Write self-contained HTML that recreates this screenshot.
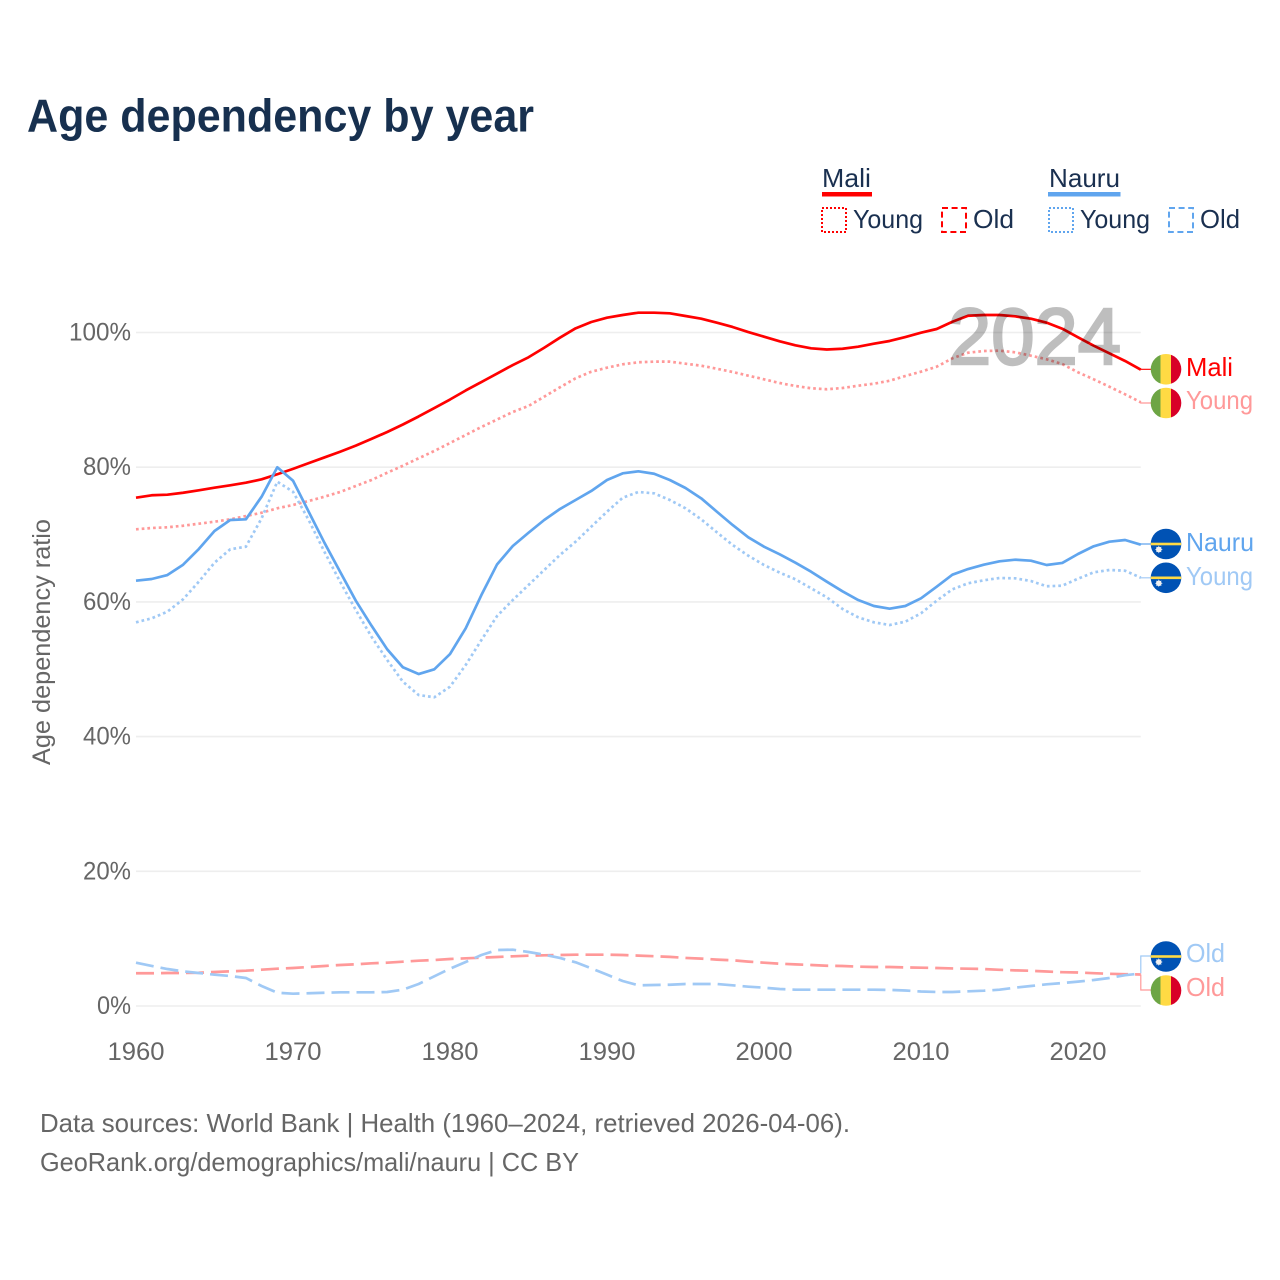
<!DOCTYPE html>
<html lang="en">
<head>
<meta charset="utf-8">
<title>Age dependency by year</title>
<style>
html,body{margin:0;padding:0;background:#fff;}
svg{display:block;font-family:"Liberation Sans",sans-serif;}
</style>
</head>
<body>
<svg id="chart" xmlns="http://www.w3.org/2000/svg" width="1280" height="1280" viewBox="0 0 1280 1280">
  <defs>
    <clipPath id="flag-clip"><circle cx="15.5" cy="15.5" r="15.3"></circle></clipPath>
    <g id="flag-mali" clip-path="url(#flag-clip)">
      <rect x="0" y="0" width="10" height="31" fill="#6da544"></rect>
      <rect x="10" y="0" width="10.5" height="31" fill="#ffda44"></rect>
      <rect x="20.5" y="0" width="10.5" height="31" fill="#d80027"></rect>
    </g>
    <g id="flag-nauru" clip-path="url(#flag-clip)">
      <rect x="0" y="0" width="31" height="31" fill="#0052b4"></rect>
      <rect x="0" y="14.2" width="31" height="2.6" fill="#ffda44"></rect>
      <circle cx="8.3" cy="21" r="2.8" fill="#f0f0f0"></circle>
      <path d="M8.3 17 L9 19 L11 18.3 L10.3 20.3 L12.3 21 L10.3 21.7 L11 23.7 L9 23 L8.3 25 L7.6 23 L5.6 23.7 L6.3 21.7 L4.3 21 L6.3 20.3 L5.6 18.3 L7.6 19 Z" fill="#f0f0f0"></path>
    </g>
  </defs>

  <text x="27" y="131.5" font-size="46" font-weight="700" fill="#17304f" textLength="507" lengthAdjust="spacingAndGlyphs">Age dependency by year</text>

  <g font-size="26" fill="#1a3050">
    <text x="822" y="187" textLength="49" lengthAdjust="spacingAndGlyphs">Mali</text>
    <rect x="822" y="192" width="50" height="4.5" fill="#ff0000"></rect>
    <rect x="822" y="208" width="24" height="24" fill="none" stroke="#ff0000" stroke-width="2" stroke-dasharray="2 2"></rect>
    <text x="853" y="228" textLength="70" lengthAdjust="spacingAndGlyphs">Young</text>
    <rect x="942" y="208" width="24" height="24" fill="none" stroke="#ff0000" stroke-width="2" stroke-dasharray="6 3.6"></rect>
    <text x="973" y="228" textLength="41" lengthAdjust="spacingAndGlyphs">Old</text>
    <text x="1049" y="187" textLength="71" lengthAdjust="spacingAndGlyphs">Nauru</text>
    <rect x="1048" y="192" width="72.5" height="4.5" fill="#60a5ee"></rect>
    <rect x="1049" y="208" width="24" height="24" fill="none" stroke="#60a5ee" stroke-width="2" stroke-dasharray="2 2"></rect>
    <text x="1080" y="228" textLength="70" lengthAdjust="spacingAndGlyphs">Young</text>
    <rect x="1169" y="208" width="24" height="24" fill="none" stroke="#60a5ee" stroke-width="2" stroke-dasharray="6 3.6"></rect>
    <text x="1200" y="228" textLength="40" lengthAdjust="spacingAndGlyphs">Old</text>
  </g>

  <g id="grid-layer"></g>
  <g id="tick-layer"></g>
  <text transform="translate(50,642) rotate(-90)" text-anchor="middle" font-size="25" fill="#666666" textLength="246" lengthAdjust="spacingAndGlyphs">Age dependency ratio</text>
  <g id="connector-layer"></g>
  <g id="line-layer"></g>

  <text x="948" y="364" font-size="80" fill="#000000" stroke="#000000" stroke-width="2.4" opacity="0.25" textLength="173" lengthAdjust="spacingAndGlyphs">2024</text>

  <g font-size="26">
    <use href="#flag-mali" x="1150.5" y="353.8"></use>
    <text x="1186" y="376" fill="#ff0000" textLength="47" lengthAdjust="spacingAndGlyphs">Mali</text>
    <use href="#flag-mali" x="1150.5" y="387.5"></use>
    <text x="1186" y="409" fill="#ff9999" textLength="67" lengthAdjust="spacingAndGlyphs">Young</text>
    <use href="#flag-nauru" x="1150.5" y="528.5"></use>
    <text x="1186" y="551" fill="#60a5ee" textLength="68" lengthAdjust="spacingAndGlyphs">Nauru</text>
    <use href="#flag-nauru" x="1150.5" y="562.3"></use>
    <text x="1186" y="585" fill="#a0c9f5" textLength="67" lengthAdjust="spacingAndGlyphs">Young</text>
    <use href="#flag-nauru" x="1150.5" y="941"></use>
    <text x="1186" y="962" fill="#a0c9f5" textLength="39" lengthAdjust="spacingAndGlyphs">Old</text>
    <use href="#flag-mali" x="1150.5" y="975"></use>
    <text x="1186" y="996" fill="#ff9999" textLength="39" lengthAdjust="spacingAndGlyphs">Old</text>
  </g>

  <g font-size="26" fill="#666666">
    <text x="40" y="1132" textLength="810" lengthAdjust="spacingAndGlyphs">Data sources: World Bank | Health (1960–2024, retrieved 2026-04-06).</text>
    <text x="40" y="1171" textLength="539" lengthAdjust="spacingAndGlyphs">GeoRank.org/demographics/mali/nauru | CC BY</text>
  </g>
</svg>
<script>
const startYear = 1960;
const xTickYears = [1960, 1970, 1980, 1990, 2000, 2010, 2020];
const yTickValues = [0, 20, 40, 60, 80, 100];
const yTickLabels = ['0%', '20%', '40%', '60%', '80%', '100%'];

const maliTotal = [75.47,75.83,75.92,76.21,76.57,76.96,77.31,77.70,78.20,78.95,79.75,80.6,81.45,82.3,83.2,84.2,85.23,86.34,87.53,88.79,90.05,91.39,92.65,93.91,95.17,96.32,97.74,99.23,100.62,101.56,102.20,102.60,102.94,102.94,102.85,102.45,102.05,101.46,100.82,100.07,99.38,98.69,98.10,97.65,97.48,97.59,97.89,98.34,98.74,99.33,99.97,100.52,101.60,102.49,102.60,102.60,102.40,102.05,101.46,100.56,99.29,98.04,96.91,95.77,94.48];
const maliYoung = [70.78,70.97,71.08,71.31,71.61,71.91,72.26,72.75,73.24,73.90,74.39,74.98,75.62,76.32,77.21,78.10,79.18,80.22,81.32,82.41,83.59,84.78,85.97,87.08,88.20,89.09,90.47,91.86,93.20,94.18,94.77,95.28,95.58,95.67,95.67,95.37,95.07,94.62,94.14,93.59,93.05,92.50,92.06,91.72,91.57,91.76,92.10,92.40,92.84,93.54,94.18,94.92,96.17,97.00,97.25,97.30,97.06,96.56,96.02,95.32,94.09,93.05,91.95,90.82,89.64];
const maliOld = [4.86,4.86,4.90,4.90,4.94,5.05,5.15,5.24,5.39,5.54,5.64,5.79,5.94,6.09,6.19,6.34,6.43,6.58,6.73,6.83,6.98,7.08,7.17,7.28,7.38,7.47,7.53,7.57,7.62,7.62,7.62,7.57,7.48,7.39,7.29,7.14,7.04,6.89,6.79,6.59,6.43,6.28,6.18,6.09,5.98,5.94,5.84,5.79,5.79,5.73,5.69,5.64,5.58,5.54,5.49,5.37,5.29,5.23,5.12,5.02,4.97,4.87,4.78,4.72,4.68];
const nauruTotal = [63.15,63.40,63.99,65.52,67.85,70.53,72.16,72.26,75.62,79.99,78.00,73.39,68.79,64.48,60.18,56.47,52.96,50.29,49.29,49.99,52.26,56.08,61.02,65.58,68.30,70.27,72.16,73.79,75.13,76.47,78.10,79.09,79.39,79.03,78.10,76.91,75.38,73.39,71.42,69.59,68.20,67.07,65.82,64.48,63.00,61.57,60.28,59.39,58.99,59.39,60.53,62.26,64.04,64.88,65.52,66.03,66.27,66.12,65.48,65.78,67.11,68.26,68.94,69.19,68.49];
const nauruYoung = [56.97,57.56,58.55,60.39,63.00,65.82,67.81,68.20,72.41,77.85,76.36,72.16,67.45,63.00,58.80,54.83,51.37,48.15,46.18,45.84,47.41,50.63,54.34,57.91,60.28,62.51,64.74,66.96,68.94,71.17,73.39,75.47,76.32,76.12,75.13,73.90,72.26,70.33,68.45,66.86,65.48,64.34,63.36,62.02,60.68,58.95,57.71,56.97,56.57,57.06,58.31,60.18,61.87,62.76,63.21,63.55,63.50,63.10,62.32,62.41,63.44,64.39,64.74,64.63,63.59];
const nauruOld = [6.43,5.94,5.49,5.15,4.90,4.65,4.45,4.16,2.97,1.97,1.83,1.89,1.97,2.03,2.03,2.03,2.08,2.42,3.27,4.41,5.54,6.53,7.57,8.31,8.36,8.02,7.62,7.13,6.49,5.60,4.65,3.71,3.07,3.12,3.16,3.27,3.27,3.27,3.07,2.87,2.72,2.52,2.42,2.42,2.42,2.42,2.42,2.42,2.39,2.30,2.15,2.08,2.08,2.18,2.27,2.42,2.72,2.97,3.22,3.41,3.62,3.86,4.16,4.57,4.83];

function xScale(year) { return 136 + (year - 1960) * 15.7; }
function yScale(value) { return 1006 - value * 6.735; }

const NS = 'http://www.w3.org/2000/svg';
function createSvg(tag, parentId) {
  const node = document.createElementNS(NS, tag);
  document.getElementById(parentId).appendChild(node);
  return node;
}

yTickValues.forEach(function (value, i) {
  const grid = createSvg('line', 'grid-layer');
  
  
  grid.setAttribute('x1', xScale(1960));
  grid.setAttribute('x2', xScale(2024));
  grid.setAttribute('y1', yScale(value));
  grid.setAttribute('y2', yScale(value));
  grid.setAttribute('stroke', '#eeeeee');
  grid.setAttribute('stroke-width', '1.6');

  const label = createSvg('text', 'tick-layer');
  
  
  label.setAttribute('x', 131);
  label.setAttribute('y', yScale(value) + 8);
  label.setAttribute('text-anchor', 'end');
  label.setAttribute('font-size', '25');
  label.setAttribute('fill', '#666666');
  label.setAttribute('textLength', 14 * yTickLabels[i].length + 6);
  label.setAttribute('lengthAdjust', 'spacingAndGlyphs');
  label.textContent = yTickLabels[i];
});

xTickYears.forEach(function (year) {
  const label = createSvg('text', 'tick-layer');
  
  
  label.setAttribute('x', xScale(year));
  label.setAttribute('y', 1060);
  label.setAttribute('text-anchor', 'middle');
  label.setAttribute('font-size', '25');
  label.setAttribute('fill', '#666666');
  label.setAttribute('textLength', 57);
  label.setAttribute('lengthAdjust', 'spacingAndGlyphs');
  label.textContent = String(year);
});

function drawSeries(values, name, color, dash) {
  const path = createSvg('path', 'line-layer');
  
  
  const d = values.map(function (value, i) {
    return (i ? 'L' : 'M') + xScale(startYear + i).toFixed(2) + ' ' + yScale(value).toFixed(2);
  }).join(' ');
  path.setAttribute('d', d);
  path.setAttribute('fill', 'none');
  path.setAttribute('stroke', color);
  path.setAttribute('stroke-width', '2.7');
  path.setAttribute('stroke-linejoin', 'round');
  if (dash) path.setAttribute('stroke-dasharray', dash);
}

drawSeries(maliOld, 'line-mali-old', '#ff9999', '18 7');
drawSeries(maliYoung, 'line-mali-young', '#ff9999', '2.7 3');
drawSeries(maliTotal, 'line-mali-total', '#ff0000', '');
drawSeries(nauruOld, 'line-nauru-old', '#a0c9f5', '18 7');
drawSeries(nauruYoung, 'line-nauru-young', '#a0c9f5', '2.7 3');
drawSeries(nauruTotal, 'line-nauru-total', '#60a5ee', '');

function drawConnector(values, name, color, labelY) {
  const endX = xScale(2024);
  const endY = yScale(values[values.length - 1]);
  const path = createSvg('path', 'connector-layer');
  
  
  path.setAttribute('d', 'M' + endX + ' ' + endY + ' L' + endX + ' ' + labelY + ' L1151 ' + labelY);
  path.setAttribute('fill', 'none');
  path.setAttribute('stroke', color);
  path.setAttribute('stroke-width', '1.2');
}

drawConnector(maliTotal, 'connector-mali', '#ff0000', 369.3);
drawConnector(maliYoung, 'connector-mali-young', '#ff9999', 403);
drawConnector(nauruTotal, 'connector-nauru', '#60a5ee', 544);
drawConnector(nauruYoung, 'connector-nauru-young', '#a0c9f5', 577.8);
drawConnector(nauruOld, 'connector-nauru-old', '#a0c9f5', 956);
drawConnector(maliOld, 'connector-mali-old', '#ff9999', 990);
</script>
</body>
</html>
